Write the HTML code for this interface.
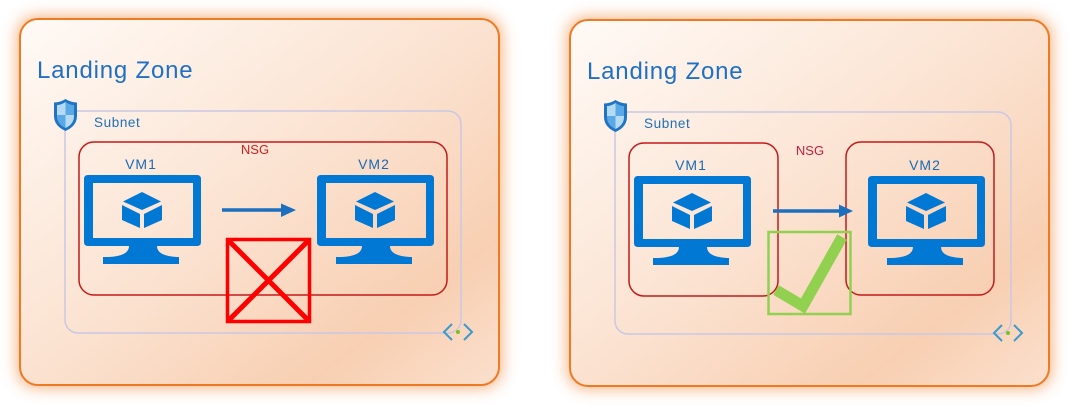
<!DOCTYPE html>
<html><head><meta charset="utf-8"><style>
html,body{margin:0;padding:0;background:#fff;}
svg{display:block;}
text{font-family:"Liberation Sans",sans-serif;}
</style></head><body>
<svg width="1070" height="406" viewBox="0 0 1070 406" xmlns="http://www.w3.org/2000/svg">
<defs>
  <linearGradient id="bg" x1="0" y1="0" x2="1" y2="1">
    <stop offset="0" stop-color="#fffaf6"/>
    <stop offset="0.5" stop-color="#fbe2d0"/>
    <stop offset="0.8" stop-color="#f8cfb2"/>
    <stop offset="1" stop-color="#fbe0cd"/>
  </linearGradient>
  <filter id="glow" x="-20%" y="-20%" width="140%" height="140%">
    <feGaussianBlur stdDeviation="8"/>
  </filter>
  <g id="vm">
    <path fill-rule="evenodd" fill="#0078d4" d="M4,0 H113 Q117,0 117,4 V67 Q117,71 113,71 H4 Q0,71 0,67 V4 Q0,0 4,0 Z M9,8 V63 H109 V8 Z"/>
    <path fill="#0078d4" d="M45,71 H73 Q73,81 93,82 H95 V89 H19 V82 H25 Q45,81 45,71 Z"/>
    <polygon fill="#0078d4" points="58,17 77,26.5 58,35 39,26.5"/>
    <polygon fill="#0078d4" points="38,30 56,39 56,53 38,45"/>
    <polygon fill="#0078d4" points="60,39 78,30 78,45 60,53"/>
  </g>
  <g id="shield">
    <path fill="#1f74c4" d="M11.5,0 Q6,3.5 0,3.5 V17 Q0,27 11.5,32 Q23,27 23,17 V3.5 Q17,3.5 11.5,0 Z"/>
    <clipPath id="sc"><path d="M11.5,3 Q7,6 3,6 V17 Q3,25 11.5,29 Q20,25 20,17 V6 Q16,6 11.5,3 Z"/></clipPath>
    <g clip-path="url(#sc)">
      <rect x="0" y="0" width="11.5" height="16" fill="#b4daf4"/>
      <rect x="11.5" y="0" width="12" height="16" fill="#5aa9e6"/>
      <rect x="0" y="16" width="11.5" height="16" fill="#5aa9e6"/>
      <rect x="11.5" y="16" width="12" height="16" fill="#b4daf4"/>
    </g>
  </g>
  <g id="conn">
    <polyline points="452,324 444,332 452,340" fill="none" stroke="#3a9ad0" stroke-width="2"/>
    <polyline points="464,324 472,332 464,340" fill="none" stroke="#3a9ad0" stroke-width="2"/>
    <circle cx="458" cy="332" r="2" fill="#7cbf1e"/>
  </g>
  <g id="panel">
    <rect x="18" y="17" width="483" height="370" rx="18" fill="#f39c5c" opacity="0.85" filter="url(#glow)"/>
    <rect x="20" y="19" width="479" height="366" rx="18" fill="url(#bg)" stroke="#ee7a24" stroke-width="2"/>
    <text x="37" y="78" font-size="24" letter-spacing="0.8" fill="#1f70c4">Landing Zone</text>
    <rect x="65" y="111" width="396" height="222" rx="13" fill="none" stroke="#c9c8e4" stroke-width="1.5"/>
    <use href="#shield" x="54" y="99"/>
    <text x="94" y="127" font-size="13.5" letter-spacing="0.6" fill="#1f6fb8">Subnet</text>
    <use href="#conn"/>
  </g>
</defs>

<!-- LEFT PANEL -->
<use href="#panel"/>
<rect x="79" y="142" width="368" height="153" rx="15" fill="none" stroke="#c41a1a" stroke-width="1.5"/>
<text x="255" y="154" font-size="13" text-anchor="middle" fill="#d42020">NSG</text>
<text x="141" y="169" font-size="14" letter-spacing="1" text-anchor="middle" fill="#1a6ab5">VM1</text>
<text x="374" y="169" font-size="14" letter-spacing="1" text-anchor="middle" fill="#1a6ab5">VM2</text>
<use href="#vm" x="84" y="175"/>
<use href="#vm" x="317" y="175"/>
<line x1="222" y1="210" x2="283" y2="210" stroke="#1b6fbe" stroke-width="3.5"/>
<polygon points="281,203.5 296,210 281,217" fill="#1b6fbe"/>
<rect x="227.5" y="239.5" width="82" height="82" fill="none" stroke="#ff0000" stroke-width="3.5"/>
<line x1="229" y1="241" x2="308" y2="320" stroke="#ff0000" stroke-width="5"/>
<line x1="308" y1="241" x2="229" y2="320" stroke="#ff0000" stroke-width="5"/>

<!-- RIGHT PANEL -->
<g transform="translate(550,1)">
<use href="#panel"/>
</g>
<rect x="629" y="143" width="149" height="153" rx="15" fill="none" stroke="#c41a1a" stroke-width="1.5"/>
<rect x="846" y="142" width="148" height="153" rx="15" fill="none" stroke="#c41a1a" stroke-width="1.5"/>
<text x="810" y="155" font-size="13" text-anchor="middle" fill="#c42040">NSG</text>
<text x="691" y="170" font-size="14" letter-spacing="1" text-anchor="middle" fill="#1a6ab5">VM1</text>
<text x="925" y="170" font-size="14" letter-spacing="1" text-anchor="middle" fill="#1a6ab5">VM2</text>
<use href="#vm" x="634" y="176"/>
<use href="#vm" x="868" y="176"/>
<line x1="773" y1="211" x2="841" y2="211" stroke="#1b6fbe" stroke-width="3.5"/>
<polygon points="839,204.5 853,211 839,217.5" fill="#1b6fbe"/>
<rect x="768.5" y="232" width="82" height="82" fill="none" stroke="#92d050" stroke-width="2.5"/>
<polyline points="776,290 803,306 842,237" fill="none" stroke="#92d050" stroke-width="11" stroke-linejoin="miter"/>
</svg>
</body></html>
